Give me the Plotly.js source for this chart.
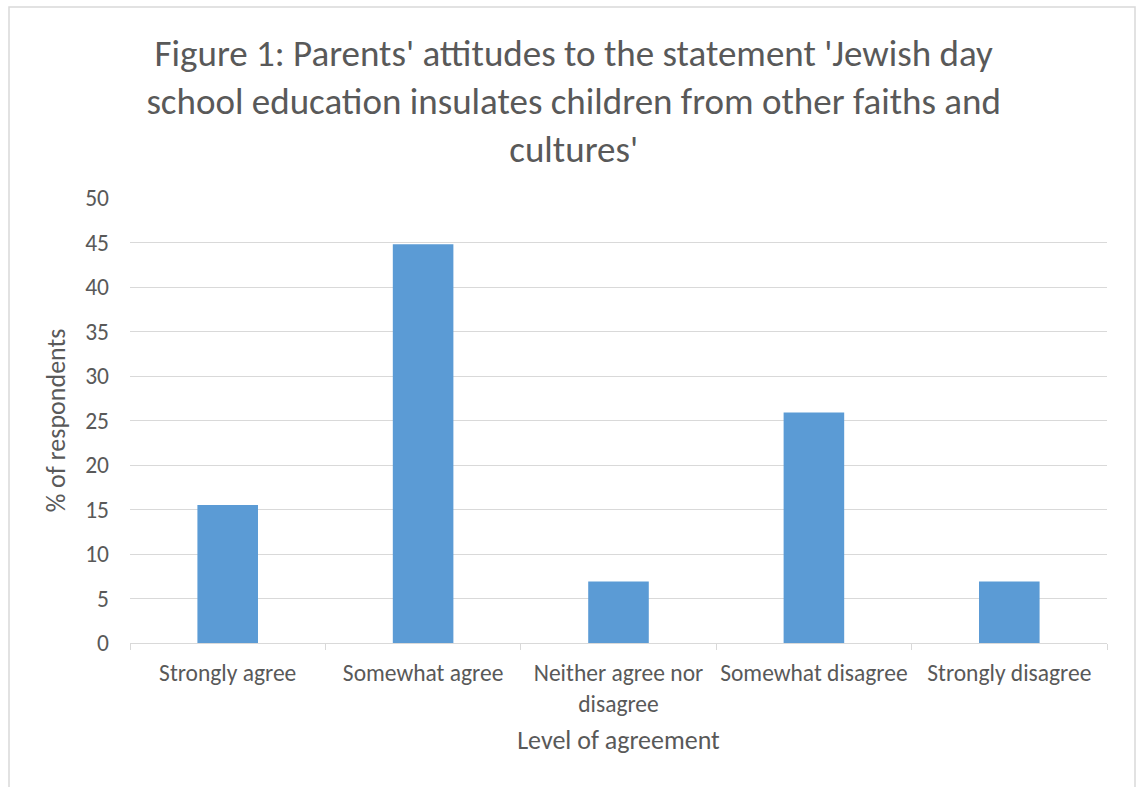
<!DOCTYPE html>
<html>
<head>
<meta charset="utf-8">
<script src="https://cdn.plot.ly/plotly-3.0.1.min.js"></script>
<style>html,body{margin:0;padding:0;background:#fff;}#chart{width:1136px;height:787px;}</style>
</head>
<body>
<div id="chart"></div>
<script>
const categories = ["Strongly agree", "Somewhat agree", "Neither agree nor<br>disagree", "Somewhat disagree", "Strongly disagree"];
const percentRespondents = [15.5, 44.8, 6.9, 25.9, 6.9];
const yTickValues = [0, 5, 10, 15, 20, 25, 30, 35, 40, 45, 50];

const FONT = "Carlito, Lato, 'Open Sans', sans-serif";
const GREY = "#595959";
const GRID = "#d9d9d9";

const trace = {
  type: "bar",
  x: categories,
  y: percentRespondents,
  marker: { color: "#5b9bd5" },
  hoverinfo: "x+y"
};

const layout = {
  width: 1136,
  height: 787,
  paper_bgcolor: "#ffffff",
  plot_bgcolor: "#ffffff",
  margin: { l: 130, r: 29, t: 198, b: 144 },
  showlegend: false,
  bargap: 0.69,
  font: { family: FONT, color: GREY },
  title: {
    text: "Figure 1: Parents' attitudes to the statement 'Jewish day<br>school education insulates children from other faiths and<br>cultures'",
    font: { family: FONT, size: 37, color: GREY },
    x: 0.505, xref: "container", xanchor: "center",
    y: 1 - 66 / 787, yref: "container", yanchor: "middle"
  },
  xaxis: {
    type: "category",
    showgrid: false,
    showline: true,
    linecolor: GRID,
    linewidth: 1,
    ticks: "outside",
    tickson: "boundaries",
    ticklen: 6,
    tickcolor: GRID,
    tickangle: 0,
    ticklabelstandoff: 9,
    tickfont: { family: FONT, size: 23.5, color: GREY },
    title: { text: "Level of agreement", font: { family: FONT, size: 26, color: GREY }, standoff: 14 },
    fixedrange: true
  },
  yaxis: {
    range: [0, 50],
    tickvals: yTickValues,
    ticktext: yTickValues.map(String),
    showgrid: true,
    gridcolor: GRID,
    gridwidth: 1,
    zeroline: false,
    showline: false,
    ticks: "",
    ticklabelstandoff: 20,
    tickfont: { family: FONT, size: 23.5, color: GREY },
    title: { text: "% of respondents", font: { family: FONT, size: 26, color: GREY }, standoff: 12 },
    fixedrange: true
  },
  shapes: [{
    type: "rect", xref: "paper", yref: "paper",
    x0: (9 - 130) / 977, x1: (1135 - 130) / 977,
    y0: (643 - 800) / 445, y1: (643 - 7) / 445,
    line: { color: "#d9d9d9", width: 1.5 },
    fillcolor: "rgba(0,0,0,0)",
    layer: "below"
  }]
};

Plotly.newPlot("chart", [trace], layout, { displayModeBar: false, staticPlot: true });
</script>
</body>
</html>
